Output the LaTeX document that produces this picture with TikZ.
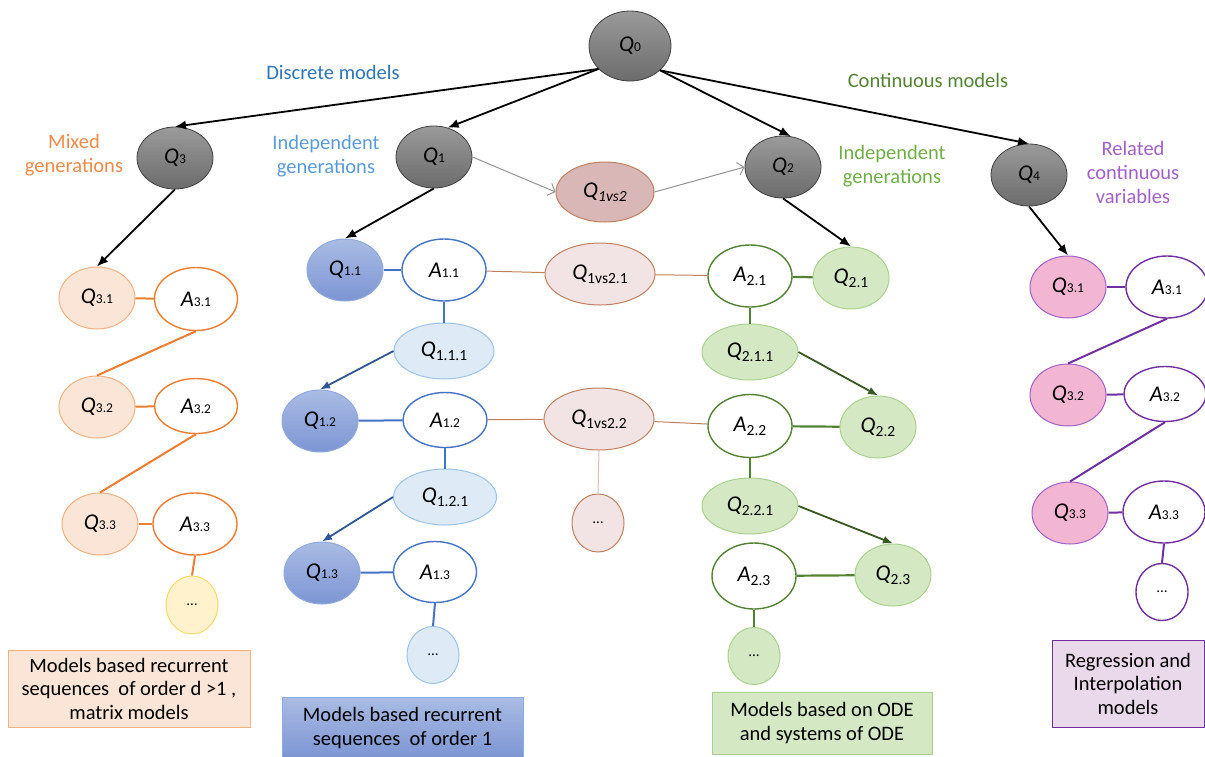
\documentclass[tikz,border=0pt]{standalone}
\usepackage{fontspec}
\setmainfont{Carlito}
\usetikzlibrary{shapes.geometric,arrows.meta}
\definecolor{gborder}{HTML}{404040}
\definecolor{gtop}{HTML}{9A9A9A}
\definecolor{gbot}{HTML}{6C6C6C}
\definecolor{txtblue}{HTML}{2E75B6}
\definecolor{txtlblue}{HTML}{5B9BD5}
\definecolor{txtgreen}{HTML}{548235}
\definecolor{txtlgreen}{HTML}{70AD47}
\definecolor{txtorange}{HTML}{F08A4B}
\definecolor{txtpurple}{HTML}{A060C8}
\definecolor{oline}{HTML}{ED7D31}
\definecolor{ofill}{HTML}{FBE5D6}
\definecolor{oborder}{HTML}{F4B183}
\definecolor{yfill}{HTML}{FFF2CC}
\definecolor{yborder}{HTML}{FFD966}
\definecolor{bline}{HTML}{4472C4}
\definecolor{bdark}{HTML}{2F5597}
\definecolor{btop}{HTML}{AABCE4}
\definecolor{bbot}{HTML}{7C95D3}
\definecolor{bborder}{HTML}{8FAADC}
\definecolor{lbfill}{HTML}{DEEBF7}
\definecolor{lbborder}{HTML}{9DC3E6}
\definecolor{brline}{HTML}{C0805F}
\definecolor{brfill}{HTML}{F2E4E4}
\definecolor{brtop}{HTML}{D9B7B7}
\definecolor{brlight}{HTML}{E2BDB4}
\definecolor{gline}{HTML}{548235}
\definecolor{gdark}{HTML}{385723}
\definecolor{gfill}{HTML}{D5E8C4}
\definecolor{gnborder}{HTML}{A9D18E}
\definecolor{pline}{HTML}{7030A0}
\definecolor{pfill}{HTML}{F2B6D3}
\definecolor{pborder}{HTML}{A060C8}
\definecolor{pboxfill}{HTML}{EAD9EA}
\newcommand{\QB}[2]{{\itshape #1}{\fontsize{13.5}{13.5}\selectfont #2}}
\newcommand{\QL}[2]{{\itshape #1}\raisebox{-4pt}{\fontsize{15.5}{15.5}\selectfont #2}}
\newcommand{\dts}{{\fontsize{15}{15}\selectfont \dots}}
\begin{document}
\begin{tikzpicture}[x=1pt,y=-1pt,
  el/.style={ellipse, inner sep=0pt, line width=1.3pt, font=\fontsize{22.5}{24}\selectfont},
  sz/.style 2 args={minimum width=#1, minimum height=#2},
  gq/.style={el, draw=gborder, line width=0.8pt, top color=gtop, bottom color=gbot, sz={76}{62}},
  lbl/.style={align=center, font=\fontsize{20.5}{24}\selectfont},
  boxt/.style={align=center, font=\fontsize{20.5}{23.5}\selectfont, inner sep=0pt},
  arr/.style={draw=black, line width=1.8pt, -{Latex[length=11pt,width=9pt]}},
  garr/.style={draw=gray!85, line width=1pt, -{Straight Barb[length=6pt,width=13pt]}},
  % orange
  oq/.style={el, fill=ofill, draw=oborder, line width=1pt, sz={76}{62}},
  oa/.style={el, fill=white, draw=oline, line width=1.4pt},
  ol/.style={draw=oline, line width=2pt},
  % blue
  bq/.style={el, top color=btop, bottom color=bbot, draw=bborder, line width=1pt, sz={76}{62}},
  ba/.style={el, fill=white, draw=bline, line width=1.4pt},
  bl/.style={draw=bline, line width=2pt},
  bq2/.style={el, fill=lbfill, draw=lbborder, line width=1pt},
  barr/.style={draw=bdark, line width=1.8pt, -{Latex[length=10pt,width=8pt]}},
  % brown
  brq/.style={el, fill=brfill, draw=brline, line width=1pt, sz={110}{62}},
  brl/.style={draw=brline, line width=1pt},
  % green
  gnq/.style={el, fill=gfill, draw=gnborder, line width=1pt, sz={76}{62}},
  gna/.style={el, fill=white, draw=gline, line width=1.4pt},
  gnl/.style={draw=gline, line width=2.2pt},
  gnarr/.style={draw=gdark, line width=1.8pt, -{Latex[length=10pt,width=8pt]}},
  % purple
  pq/.style={el, fill=pfill, draw=pborder, line width=1pt, sz={76}{62}},
  pa/.style={el, fill=white, draw=pline, line width=1.4pt},
  pl/.style={draw=pline, line width=2pt}
]
\useasboundingbox (0,0) rectangle (1205,756);

% top level
\node[gq, sz={82}{70}] (Q0) at (630,46) {\QB{Q}{0}};
\node[gq] (Q3) at (175,158) {\QB{Q}{3}};
\node[gq] (Q1) at (434,157) {\QB{Q}{1}};
\node[gq] (Q2) at (783,167) {\QB{Q}{2}};
\node[gq] (Q4) at (1029,175) {\QB{Q}{4}};
\node[el, fill=brtop, draw=brline, line width=1pt, sz={98}{60}] (Q12) at (605,192) {{\itshape Q}\raisebox{-4pt}{\fontsize{15.5}{15.5}\selectfont\itshape 1vs2}};

\node[lbl, text=txtblue] (tdisc) at (333,72) {Discrete models};
\node[lbl, text=txtgreen] (tcont) at (928,80) {Continuous models};
\node[lbl, text=txtorange] (tmix) at (74,155) {Mixed\\generations};
\node[lbl, text=txtlblue] (tind1) at (326,156) {Independent\\generations};
\node[lbl, text=txtlgreen] (tind2) at (892,166) {Independent\\generations};
\node[lbl, text=txtpurple] (trel) at (1133,172) {Related\\continuous\\variables};

\draw[arr] (Q0.216) -- (Q3.north);
\draw[arr] (Q0.216) -- (Q1.65);
\draw[arr] (Q0.321) -- (Q2.76);
\draw[arr] (Q0.321) -- (Q4.north);
\draw[garr] (Q1.east) -- (Q12.west);
\draw[garr] (Q12.east) -- (Q2.west);

% orange column
\node[oq] (O31) at (97,298) {\QB{Q}{3.1}};
\node[oa, sz={83}{63}] (OA31) at (196,299) {\QB{A}{3.1}};
\node[oq] (O32) at (97,407) {\QB{Q}{3.2}};
\node[oa, sz={83}{55}] (OA32) at (196,406) {\QB{A}{3.2}};
\node[oq] (O33) at (100,524) {\QB{Q}{3.3}};
\node[oa, sz={84}{62}] (OA33) at (195,524) {\QB{A}{3.3}};
\node[el, fill=yfill, draw=yborder, line width=1pt, sz={52}{58}] (OD) at (192,605) {\dts};
\draw[arr] (Q3.south) -- (O31.north);
\draw[ol] (O31) -- (OA31);
\draw[ol] (OA31.south) -- (O32.north);
\draw[ol] (O32) -- (OA32);
\draw[ol] (OA32.south) -- (O33.north);
\draw[ol] (O33) -- (OA33);
\draw[ol] (OA33.south) -- (OD.north);

% blue column
\node[bq] (B11) at (345,270) {\QB{Q}{1.1}};
\node[ba, sz={84}{62}] (BA11) at (444,270) {\QB{A}{1.1}};
\node[bq2, sz={100}{56}] (B111) at (444,351) {\QL{Q}{1.1.1}};
\node[bq] (B12) at (320,421) {\QB{Q}{1.2}};
\node[ba, sz={84}{55}] (BA12) at (445,420) {\QB{A}{1.2}};
\node[bq2, sz={103}{56}] (B121) at (445,497) {\QL{Q}{1.2.1}};
\node[bq] (B13) at (322,573) {\QB{Q}{1.3}};
\node[ba, sz={83}{61}] (BA13) at (435,572) {\QB{A}{1.3}};
\node[bq2, sz={52}{57}] (BD) at (433,655) {\dts};
\draw[arr] (Q1.south) -- (B11.north);
\draw[bl] (B11) -- (BA11);
\draw[bl] (BA11.south) -- (B111.north);
\draw[barr] (B111.west) -- (B12.north);
\draw[bl] (B12) -- (BA12);
\draw[bl] (BA12.south) -- (B121.north);
\draw[barr] (B121.west) -- (B13.north);
\draw[bl] (B13) -- (BA13);
\draw[bl] (BA13.south) -- (BD.north);

% brown middle
\node[brq] (M1) at (600,274) {\QL{Q}{1vs2.1}};
\node[brq] (M2) at (599,419) {\QL{Q}{1vs2.2}};
\node[el, fill=brfill, draw=brline, line width=1pt, sz={52}{58}] (MD) at (598,523) {\dts};

% green column
\node[gna, sz={84}{62}] (GA21) at (750,276) {\QL{A}{2.1}};
\node[gnq] (G21) at (851,278) {\QL{Q}{2.1}};
\node[gnq, sz={96}{56}] (G211) at (750,352) {\QL{Q}{2.1.1}};
\node[gna, sz={84}{63}] (GA22) at (750,426) {\QL{A}{2.2}};
\node[gnq] (G22) at (878,427) {\QL{Q}{2.2}};
\node[gnq, sz={96}{56}] (G221) at (750,506) {\QL{Q}{2.2.1}};
\node[gna, sz={84}{66}] (GA23) at (754,576) {\QL{A}{2.3}};
\node[gnq] (G23) at (893,575) {\QL{Q}{2.3}};
\node[gnq, sz={52}{57}] (GD) at (754,656) {\dts};
\draw[arr] (Q2.south) -- (G21.north);
\draw[gnl] (GA21) -- (G21);
\draw[gnl] (GA21.south) -- (G211.north);
\draw[gnarr] (G211.east) -- (G22.north);
\draw[gnl] (GA22) -- (G22);
\draw[gnl] (GA22.south) -- (G221.north);
\draw[gnarr] (G221.east) -- (G23.north);
\draw[gnl] (GA23) -- (G23);
\draw[gnl] (GA23.south) -- (GD.north);

\draw[brl] (BA11) -- (M1);
\draw[brl] (M1) -- (GA21);
\draw[brl] (BA12) -- (M2);
\draw[brl] (M2) -- (GA22);
\draw[draw=brlight, line width=1pt] (M2.south) -- (MD.north);

% purple column
\node[pq] (P31) at (1068,287) {\QB{Q}{3.1}};
\node[pa, sz={82}{62}] (PA31) at (1167,287) {\QB{A}{3.1}};
\node[pq] (P32) at (1068,395) {\QB{Q}{3.2}};
\node[pa, sz={82}{55}] (PA32) at (1165,394) {\QB{A}{3.2}};
\node[pq] (P33) at (1070,513) {\QB{Q}{3.3}};
\node[pa, sz={82}{62}] (PA33) at (1164,512) {\QB{A}{3.3}};
\node[el, fill=white, draw=pline, line width=1.4pt, sz={52}{57}] (PD) at (1162,592) {\dts};
\draw[arr] (Q4.south) -- (P31.north);
\draw[pl] (P31) -- (PA31);
\draw[pl] (PA31.south) -- (P32.north);
\draw[pl] (P32) -- (PA32);
\draw[pl] (PA32.south) -- (P33.north);
\draw[pl] (P33) -- (PA33);
\draw[pl] (PA33.south) -- (PD.north);

% boxes
\draw[fill=ofill, draw=oborder, line width=1pt] (8,650) rectangle (250,727);
\node[boxt] (bo) at (129,688.5) {Models based recurrent\\sequences \ of order d >1 ,\\matrix models};
\draw[top color=btop, bottom color=bbot, draw=bborder, line width=1pt] (282,697) rectangle (523,758);
\node[boxt] (bb) at (402.5,728) {Models based recurrent\\sequences \ of order 1};
\draw[fill=gfill, draw=gnborder, line width=1pt] (712,692) rectangle (932,754);
\node[boxt] (bg) at (822,723) {Models based on ODE\\and systems of ODE};
\draw[fill=pboxfill, draw=pline, line width=1pt] (1052,640) rectangle (1204,727);
\node[boxt] (bp) at (1128,683.5) {Regression and\\Interpolation\\models};
\end{tikzpicture}
\end{document}
